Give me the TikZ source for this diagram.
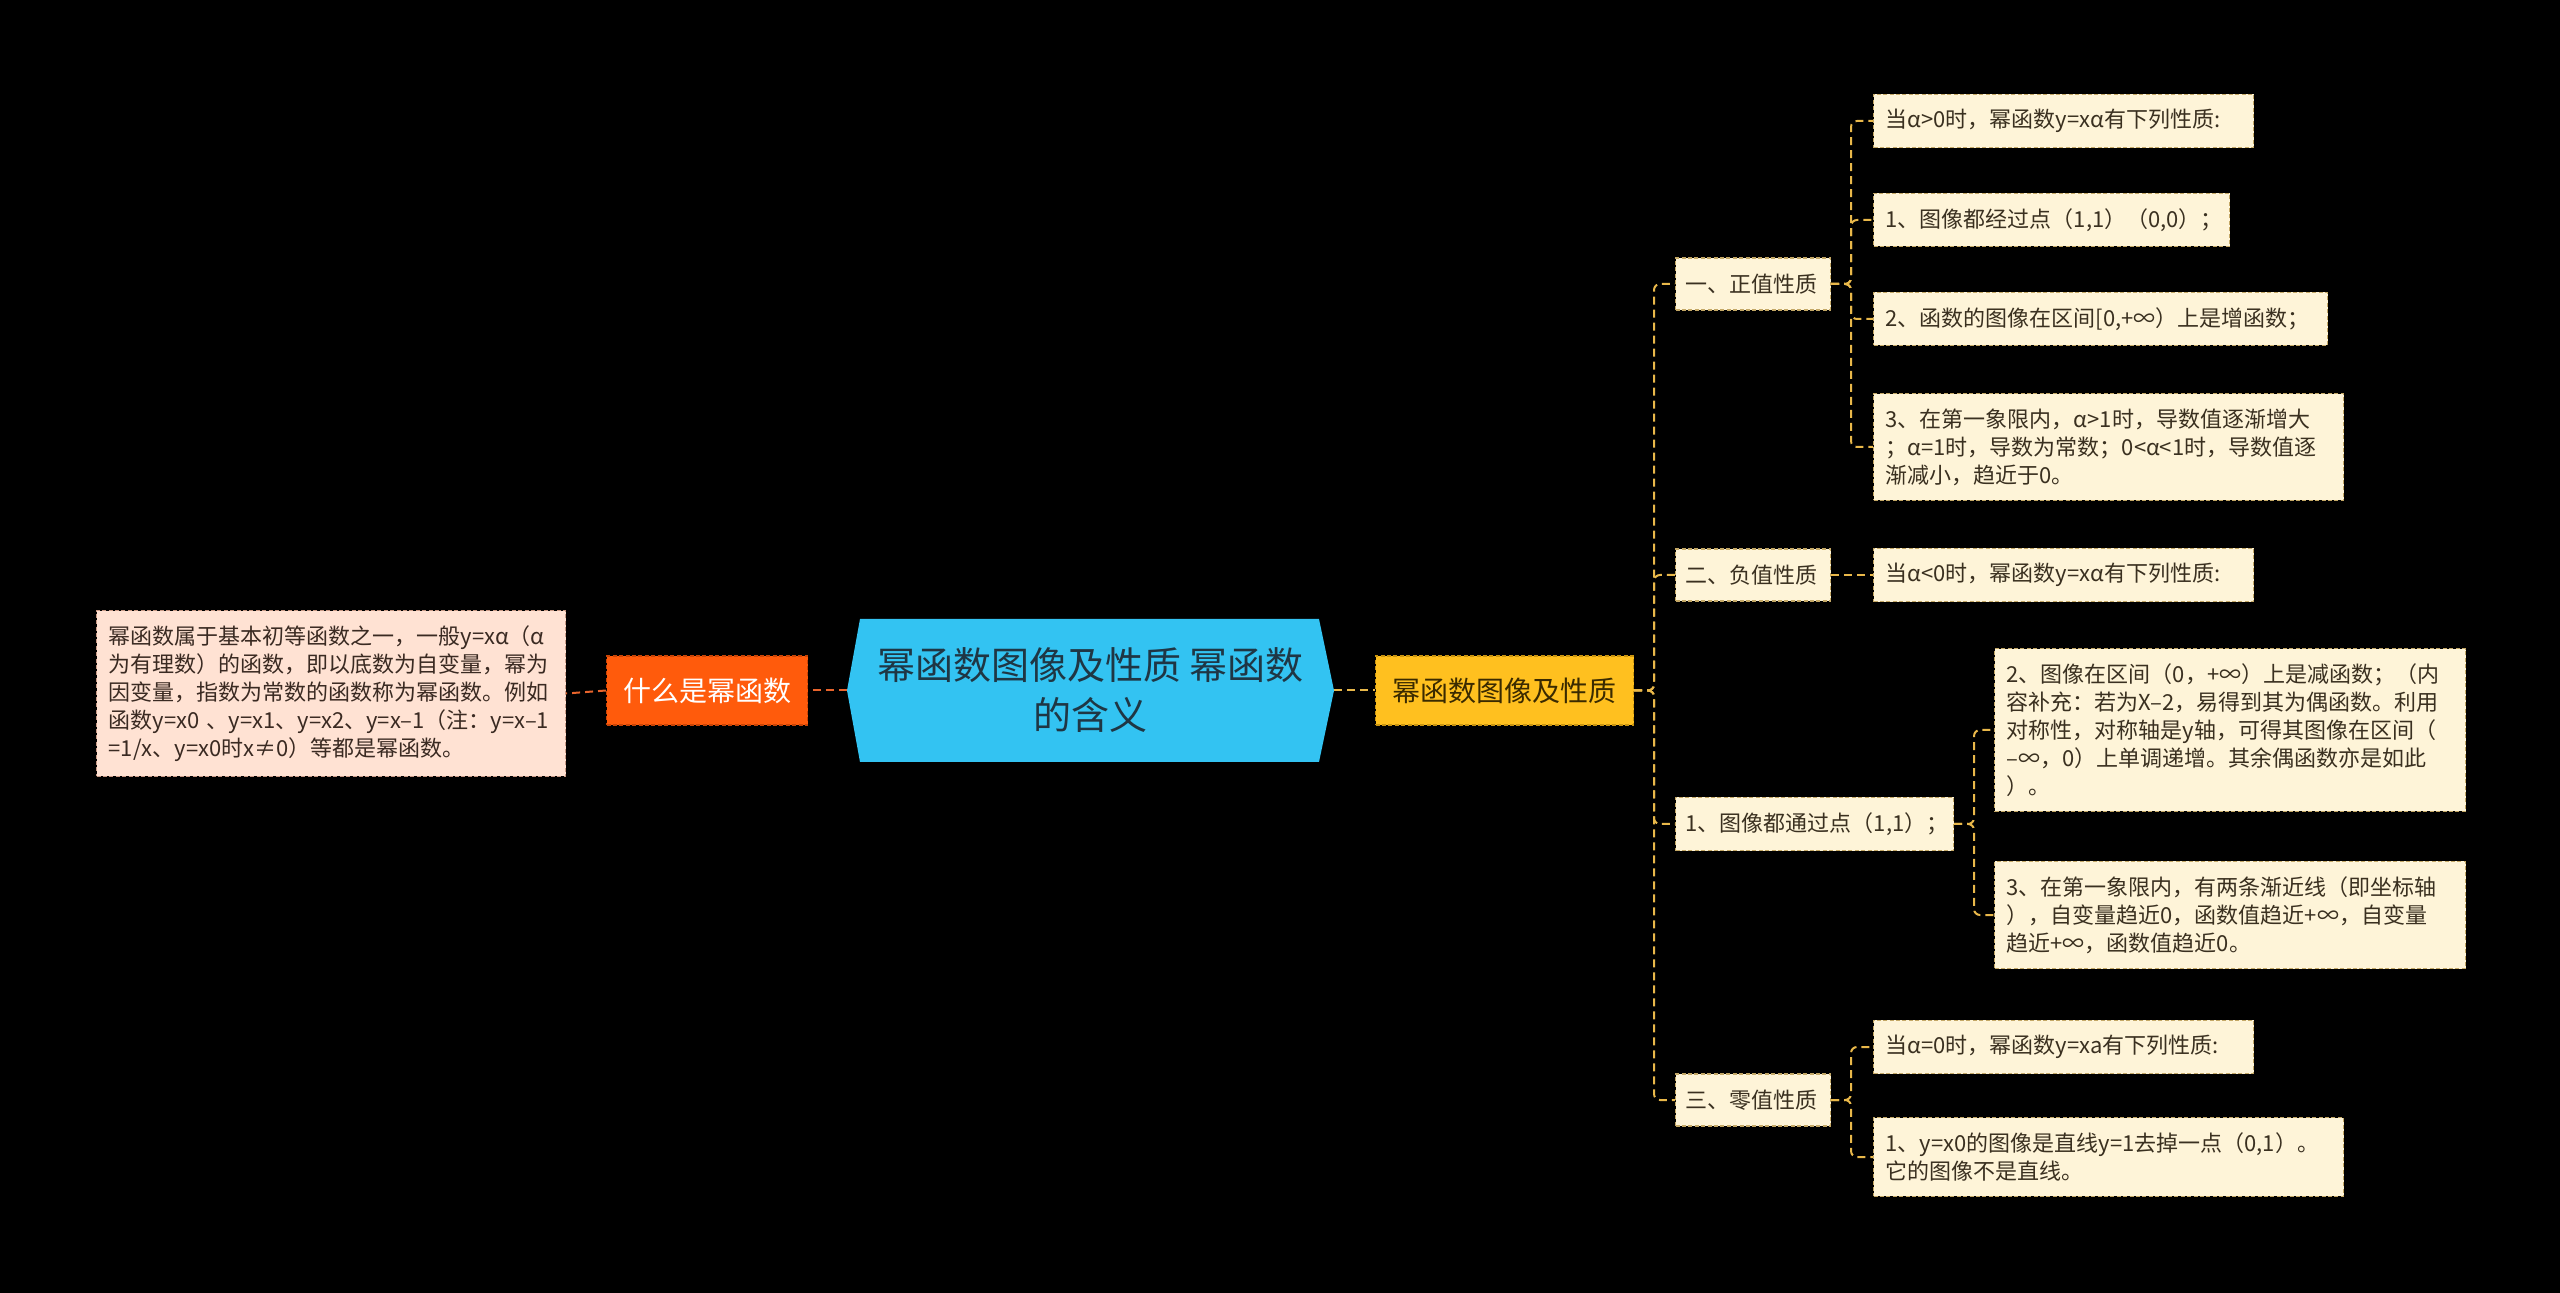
\documentclass[tikz,border=0pt]{standalone}
\usepackage{fontspec}
\setmainfont{Noto Sans CJK SC}
\definecolor{creamfill}{HTML}{FEF4D8}
\definecolor{creamdraw}{HTML}{C4A866}
\definecolor{creamtext}{HTML}{3A3020}
\definecolor{pinkfill}{HTML}{FFE2D3}
\definecolor{pinkdraw}{HTML}{C99A86}
\definecolor{pinktext}{HTML}{3A2A22}
\definecolor{orangefill}{HTML}{FF5B0C}
\definecolor{orangedraw}{HTML}{C94406}
\definecolor{hexfill}{HTML}{33C3F2}
\definecolor{hextext}{HTML}{1F3644}
\definecolor{yelfill}{HTML}{FFC01F}
\definecolor{yeldraw}{HTML}{C99410}
\definecolor{yeltext}{HTML}{3A2A00}
\definecolor{rconncol}{HTML}{E9B84A}
\definecolor{lconncol}{HTML}{E8642C}
\begin{document}
\begin{tikzpicture}[x=0.5pt,y=-0.5pt,
  base/.style={inner xsep=6pt, inner ysep=7.5pt, font=\fontsize{11pt}{14pt}\selectfont, align=left, anchor=west},
  cream/.style={base, fill=creamfill, draw=creamdraw, dash pattern=on 2pt off 1.2pt, line width=0.6pt, text=creamtext, minimum height=26pt},
  lvltwo/.style={cream, inner xsep=5pt},
  pinkbox/.style={base, fill=pinkfill, draw=pinkdraw, dash pattern=on 2pt off 1.2pt, line width=0.6pt, text=pinktext},
  bigbox/.style={anchor=west, inner sep=0pt, minimum height=34.5pt, align=center, font=\fontsize{14pt}{17pt}\selectfont, dash pattern=on 2pt off 1.2pt, line width=0.6pt},
  rconn/.style={draw=rconncol, line width=1pt, dash pattern=on 4pt off 2.5pt, rounded corners=3pt},
  lconn/.style={draw=lconncol, line width=1pt, dash pattern=on 4pt off 2.5pt},
]
\useasboundingbox[fill=black] (0,0) rectangle (2560,1293);

% central hexagon
\fill[hexfill] (847,690.5) -- (860,619) -- (1319,619) -- (1334,690.5) -- (1319,762) -- (860,762) -- cycle;
\node[minimum width=243.5pt, minimum height=71.5pt, inner sep=0pt, align=center,
      font=\fontsize{19pt}{25pt}\selectfont, text=hextext] (root) at (1090.5,690.5)
      {幂函数图像及性质 幂函数\\的含义};

% left side
\node[bigbox, fill=orangefill, draw=orangedraw, text=white, minimum width=100.5pt] (what) at (606,690.5) {什么是幂函数};
\node[pinkbox, text width=222.5pt] (def) at (96,693.5)
  {幂函数属于基本初等函数之一，一般y=xα（α\\为有理数）的函数，即以底数为自变量，幂为\\因变量，指数为常数的函数称为幂函数。例如\\函数y=x0 、y=x1、y=x2、y=x–1（注：y=x–1\\=1/x、y=x0时x≠0）等都是幂函数。};

% right main
\node[bigbox, fill=yelfill, draw=yeldraw, text=yeltext, minimum width=129pt] (yel) at (1375,690.5) {幂函数图像及性质};

% level two
\node[lvltwo, text width=67.5pt] (n1) at (1675,284) {一、正值性质};
\node[lvltwo, text width=67.5pt] (n2) at (1675,575) {二、负值性质};
\node[lvltwo, text width=129pt] (n3) at (1675,824) {1、图像都通过点（1,1）；};
\node[lvltwo, text width=67.5pt] (n4) at (1675,1100) {三、零值性质};

% level three
\node[cream, text width=178pt] (c11) at (1873,121) {当α>0时，幂函数y=xα有下列性质:};
\node[cream, text width=166pt] (c12) at (1873,220) {1、图像都经过点（1,1）（0,0）；};
\node[cream, text width=215pt] (c13) at (1873,319) {2、函数的图像在区间[0,+∞）上是增函数；};
\node[cream, text width=223pt] (c14) at (1873,447) {3、在第一象限内，α>1时，导数值逐渐增大\\；α=1时，导数为常数；0<α<1时，导数值逐\\渐减小，趋近于0。};
\node[cream, text width=178pt] (c21) at (1873,575) {当α<0时，幂函数y=xα有下列性质:};
\node[cream, text width=223.5pt] (c31) at (1994,730) {2、图像在区间（0，+∞）上是减函数；（内\\容补充：若为X–2，易得到其为偶函数。利用\\对称性，对称轴是y轴，可得其图像在区间（\\–∞，0）上单调递增。其余偶函数亦是如此\\）。};
\node[cream, text width=223.5pt] (c32) at (1994,915) {3、在第一象限内，有两条渐近线（即坐标轴\\），自变量趋近0，函数值趋近+∞，自变量\\趋近+∞，函数值趋近0。};
\node[cream, text width=178pt] (c41) at (1873,1047) {当α=0时，幂函数y=xa有下列性质:};
\node[cream, text width=223pt] (c42) at (1873,1157) {1、y=x0的图像是直线y=1去掉一点（0,1）。\\它的图像不是直线。};

% connectors left
\draw[lconn] (root.west) -- (what.east);
\draw[lconn] (what.west) -- (def.east);

% connectors right
\draw[rconn] (root.east) -- (yel.west);
\coordinate (t0) at (1654,690.5);
\foreach \n in {n1,n2,n3,n4} \draw[rconn] (yel.east) -- (t0) |- (\n.west);
\coordinate (t1) at (1851,284);
\foreach \c in {c11,c12,c13,c14} \draw[rconn] (n1.east) -- (t1) |- (\c.west);
\draw[rconn] (n2.east) -- (c21.west);
\coordinate (t3) at (1974,824);
\foreach \c in {c31,c32} \draw[rconn] (n3.east) -- (t3) |- (\c.west);
\coordinate (t4) at (1851,1100);
\foreach \c in {c41,c42} \draw[rconn] (n4.east) -- (t4) |- (\c.west);
\end{tikzpicture}
\end{document}
